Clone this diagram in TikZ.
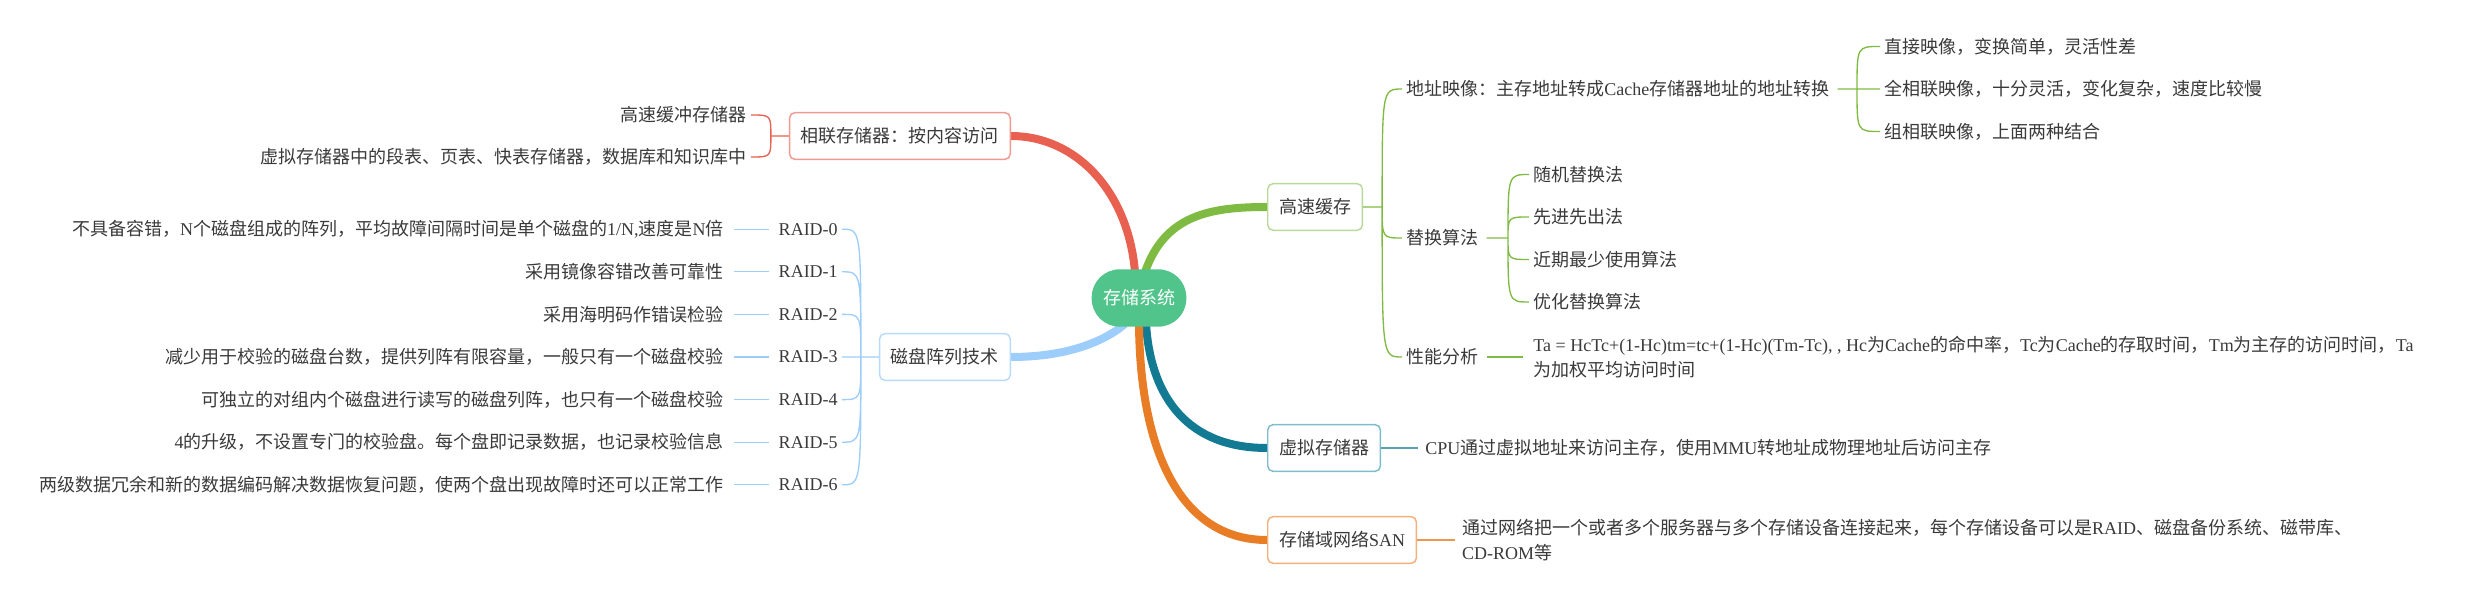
\documentclass[tikz,border=0pt]{standalone}
\usepackage{fontspec}
\setmainfont{Noto Sans CJK SC}
\newfontfamily\latinfont{Liberation Serif}
\newcommand\lat[1]{{\latinfont #1}}
\usetikzlibrary{positioning,calc,backgrounds}
\definecolor{Ink}{HTML}{3A3A3A}
\definecolor{Mint}{HTML}{50C48B}
\definecolor{Coral}{HTML}{E8604F}
\definecolor{PaleCoral}{HTML}{EE9A8F}
\definecolor{Leaf}{HTML}{7FBA42}
\definecolor{PaleLeaf}{HTML}{B7DA9A}
\definecolor{Sky}{HTML}{9DCDFB}
\definecolor{PaleSky}{HTML}{B9DBFB}
\definecolor{Teal}{HTML}{127A93}
\definecolor{PaleTeal}{HTML}{7DBCCC}
\definecolor{Orange}{HTML}{E87D25}
\definecolor{PaleOrange}{HTML}{F4B07C}
\tikzset{
  root/.style={fill=Mint,text=white,rounded corners=21pt,minimum width=71pt,minimum height=43pt,inner sep=0pt},
  topic/.style={draw=#1,fill=white,line width=1.1pt,rounded corners=4pt,minimum height=35pt,inner xsep=8.5pt},
  leaf/.style={inner xsep=3pt,inner ysep=1pt,align=left},
  trunk/.style={draw=#1,line width=6pt},
  twig/.style={draw=#1,line width=1pt},
  curl/.style={to path={.. controls (\tikztostart|-\tikztotarget) and (\tikztostart|-\tikztotarget) .. (\tikztotarget) \tikztonodes}},
}

\begin{document}
\begin{tikzpicture}[x=.75pt,y=-.75pt,every node/.style={font=\fontsize{13.5}{18.75}\selectfont,text=Ink}]
  \useasboundingbox (0,0) rectangle (2471,598);
  % centre and main topics
  \node[root] (sys) at (1139,298) {存储系统};
  \node[topic=PaleCoral,anchor=east] (assoc) at (1011,136) {相联存储器：按内容访问};
  \node[topic=PaleSky,anchor=east] (raid) at (1011,357) {磁盘阵列技术};
  \node[topic=PaleLeaf,anchor=west] (cache) at (1267,207) {高速缓存};
  \node[topic=PaleTeal,anchor=west] (virt) at (1267,448) {虚拟存储器};
  \node[topic=PaleOrange,anchor=west] (san) at (1267,540) {存储域网络\lat{SAN}};
  \begin{scope}[on background layer]
    \draw[trunk=Coral] ($(sys.north)+(-4,3)$) .. controls (1128,190) and (1075,136) .. (assoc.east);
    \draw[trunk=Leaf] ($(sys.north)+(6,3)$) .. controls (1165,215) and (1210,207) .. (cache.west);
    \draw[trunk=Sky] ($(sys.south)+(-14,-3)$) .. controls (1100,345) and (1060,357) .. (raid.east);
    \draw[trunk=Teal] ($(sys.south)+(7,-3)$) .. controls (1151,400) and (1190,448) .. (virt.west);
    \draw[trunk=Orange] ($(sys.south)+(0,-3)$) .. controls (1140,450) and (1180,540) .. (san.west);
  \end{scope}

  % associative memory
  \node[leaf,anchor=east] (cbuf) at (751,115) {高速缓冲存储器};
  \node[leaf,anchor=east] (vtab) at (751,157) {虚拟存储器中的段表、页表、快表存储器，数据库和知识库中};
  \coordinate (assocfork) at ($(assoc.west)+(-18,0)$);
  \draw[twig=Coral] (assoc.west) -- (assocfork) (assocfork) to[curl] (cbuf.east) (assocfork) to[curl] (vtab.east);

  % raid levels
  \node[leaf,anchor=east] (r0) at (842,229.2) {\lat{RAID-0}};
  \node[leaf,anchor=east] (r1) at (842,271.8) {\lat{RAID-1}};
  \node[leaf,anchor=east] (r2) at (842,314.4) {\lat{RAID-2}};
  \node[leaf,anchor=east] (r3) at (842,357) {\lat{RAID-3}};
  \node[leaf,anchor=east] (r4) at (842,399.6) {\lat{RAID-4}};
  \node[leaf,anchor=east] (r5) at (842,442.2) {\lat{RAID-5}};
  \node[leaf,anchor=east] (r6) at (842,484.8) {\lat{RAID-6}};
  \node[leaf,left=35pt of r0] (d0) {不具备容错，\lat{N}个磁盘组成的阵列，平均故障间隔时间是单个磁盘的\lat{1/N,}速度是\lat{N}倍};
  \node[leaf,left=35pt of r1] (d1) {采用镜像容错改善可靠性};
  \node[leaf,left=35pt of r2] (d2) {采用海明码作错误检验};
  \node[leaf,left=35pt of r3] (d3) {减少用于校验的磁盘台数，提供列阵有限容量，一般只有一个磁盘校验};
  \node[leaf,left=35pt of r4] (d4) {可独立的对组内个磁盘进行读写的磁盘列阵，也只有一个磁盘校验};
  \node[leaf,left=35pt of r5] (d5) {\lat{4}的升级，不设置专门的校验盘。每个盘即记录数据，也记录校验信息};
  \node[leaf,left=35pt of r6] (d6) {两级数据冗余和新的数据编码解决数据恢复问题，使两个盘出现故障时还可以正常工作};
  \coordinate (raidfork) at ($(raid.west)+(-18,0)$);
  \draw[twig=Sky] (raid.west) -- (raidfork)
    (raidfork) to[curl] (r0.east) (raidfork) to[curl] (r1.east) (raidfork) to[curl] (r2.east)
    (raidfork) to[curl] (r3.east) (raidfork) to[curl] (r4.east) (raidfork) to[curl] (r5.east)
    (raidfork) to[curl] (r6.east);
  \draw[twig=Sky] ([xshift=-4pt]r0.west) -- ([xshift=5pt]d0.east);
  \draw[twig=Sky] ([xshift=-4pt]r1.west) -- ([xshift=5pt]d1.east);
  \draw[twig=Sky] ([xshift=-4pt]r2.west) -- ([xshift=5pt]d2.east);
  \draw[twig=Sky] ([xshift=-4pt]r3.west) -- ([xshift=5pt]d3.east);
  \draw[twig=Sky] ([xshift=-4pt]r4.west) -- ([xshift=5pt]d4.east);
  \draw[twig=Sky] ([xshift=-4pt]r5.west) -- ([xshift=5pt]d5.east);
  \draw[twig=Sky] ([xshift=-4pt]r6.west) -- ([xshift=5pt]d6.east);

  % cache
  \node[leaf,anchor=west] (amap) at (1402,89) {地址映像：主存地址转成\lat{Cache}存储器地址的地址转换};
  \node[leaf,anchor=west] (repl) at (1402,238) {替换算法};
  \node[leaf,anchor=west] (perf) at (1402,357) {性能分析};
  \node[leaf,anchor=west] (direct) at (1880,46.5) {直接映像，变换简单，灵活性差};
  \node[leaf,anchor=west] (fullmap) at (1880,89) {全相联映像，十分灵活，变化复杂，速度比较慢};
  \node[leaf,anchor=west] (setmap) at (1880,131.5) {组相联映像，上面两种结合};
  \node[leaf,anchor=west] (rand) at (1529,174.5) {随机替换法};
  \node[leaf,anchor=west] (fifo) at (1529,217) {先进先出法};
  \node[leaf,anchor=west] (lru) at (1529,259.5) {近期最少使用算法};
  \node[leaf,anchor=west] (opt) at (1529,302) {优化替换算法};
  \node[leaf,right=35pt of perf] (formula) {\lat{Ta = HcTc+(1-Hc)tm=tc+(1-Hc)(Tm-Tc), , Hc}为\lat{Cache}的命中率，\lat{Tc}为\lat{Cache}的存取时间，\lat{Tm}为主存的访问时间，\lat{Ta}\\为加权平均访问时间};
  \coordinate (cachefork) at ($(cache.east)+(19,0)$);
  \coordinate (amapfork) at (1857,89);
  \coordinate (replfork) at (1508,238);
  \draw[twig=Leaf] (cache.east) -- (cachefork)
    (cachefork) to[curl] (amap.west) (cachefork) to[curl] (repl.west) (cachefork) to[curl] (perf.west);
  \draw[twig=Leaf] ([xshift=3pt]amap.east) -- (amapfork)
    (amapfork) to[curl] (direct.west) (amapfork) to[curl] (fullmap.west) (amapfork) to[curl] (setmap.west);
  \draw[twig=Leaf] ([xshift=3pt]repl.east) -- (replfork)
    (replfork) to[curl] (rand.west) (replfork) to[curl] (fifo.west) (replfork) to[curl] (lru.west) (replfork) to[curl] (opt.west);
  \draw[twig=Leaf] ([xshift=3pt]perf.east) -- ([xshift=-5pt]formula.west);

  % virtual memory and san
  \node[leaf,right=30pt of virt] (cpu) {\lat{CPU}通过虚拟地址来访问主存，使用\lat{MMU}转地址成物理地址后访问主存};
  \node[leaf,right=30.5pt of san] (sannote) {通过网络把一个或者多个服务器与多个存储设备连接起来，每个存储设备可以是\lat{RAID}、磁盘备份系统、磁带库、\\\lat{CD-ROM}等};
  \draw[twig=Teal!70] (virt.east) -- ([xshift=-2pt]cpu.west);
  \draw[twig=Orange!80] (san.east) -- ([xshift=-2pt]sannote.west);
\end{tikzpicture}
\end{document}
